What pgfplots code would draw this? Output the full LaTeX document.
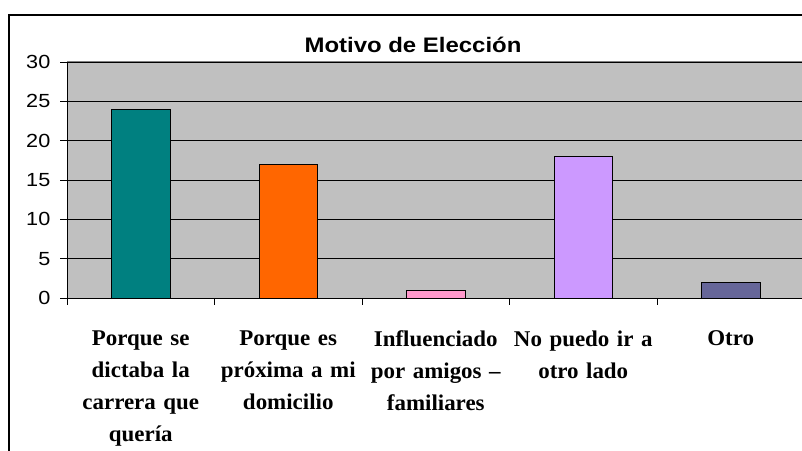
\documentclass[border=0pt]{standalone}
\usepackage{fontspec}
\usepackage{pgfplots}
\pgfplotsset{compat=1.18}
\setmainfont{Liberation Sans}
\newfontfamily\sansx[FakeStretch=1.14]{Liberation Sans}
\newfontfamily\catfont[FakeStretch=1.02]{Liberation Serif}
\definecolor{plotbg}{HTML}{C0C0C0}
\definecolor{c1}{HTML}{008080}
\definecolor{c2}{HTML}{FF6600}
\definecolor{c3}{HTML}{FF99CC}
\definecolor{c4}{HTML}{CC99FF}
\definecolor{c5}{HTML}{666699}
\begin{document}
\begin{tikzpicture}[x=1pt,y=1pt]
\path[use as bounding box] (0pt,0pt) rectangle (802pt,450pt);
\coordinate (O) at (67pt,152pt);
\begin{axis}[
  at={(O)}, anchor=south west,
  scale only axis, width=737.5pt, height=236pt,
  xmin=-0.5, xmax=4.5, ymin=0, ymax=30,
  axis x line*=bottom, axis y line*=left,
  axis line style={black, line width=0.9pt},
  axis background/.style={fill=plotbg},
  ytick={0,5,10,15,20,25,30},
  yticklabels={0,5,10,15,20,25,30},
  ymajorgrids, major grid style={black, line width=0.8pt},
  xtick={-0.5,0.5,1.5,2.5,3.5,4.5}, xticklabels={},
  tick align=outside, major tick length=6.5pt,
  tick style={black, line width=0.8pt},
  yticklabel style={font=\sansx\fontsize{19}{22}\selectfont, anchor=east, inner sep=0pt, xshift=-10pt},
  /pgf/number format/assume math mode=true,
  extra x ticks={0,1,2,3,4},
  extra x tick labels={{Porque se\\dictaba la\\carrera que\\quería},{Porque es\\próxima a mi\\domicilio},{Influenciado\\por amigos –\\familiares},{No puedo ir a\\otro lado},{Otro}},
  extra x tick style={major tick length=0pt, tick style={draw=none},
    xticklabel style={anchor=north, inner sep=0pt, yshift=-32.6pt, align=center, text width=160pt,
      font=\catfont\bfseries\fontsize{22.5}{32}\selectfont}},
  ybar, bar width=0.397,
]
\addplot[fill=c1, draw=black, line width=0.8pt, bar shift=0pt] coordinates {(0,24)};
\addplot[fill=c2, draw=black, line width=0.8pt, bar shift=0pt] coordinates {(1,17)};
\addplot[fill=c3, draw=black, line width=0.8pt, bar shift=0pt] coordinates {(2,1)};
\addplot[fill=c4, draw=black, line width=0.8pt, bar shift=0pt] coordinates {(3,18)};
\addplot[fill=c5, draw=black, line width=0.8pt, bar shift=0pt] coordinates {(4,2)};
\draw[color=gray, line width=1pt] (axis cs:-0.5,30) -- (axis cs:4.5,30);
\end{axis}
\draw[line width=1.2pt] (9pt,-5pt) -- (9pt,435pt) -- (810pt,435pt);
\node[anchor=base, font=\sansx\bfseries\fontsize{21}{25}\selectfont, inner sep=0pt] at (413pt,397.7pt) {Motivo de Elección};
\end{tikzpicture}
\end{document}
